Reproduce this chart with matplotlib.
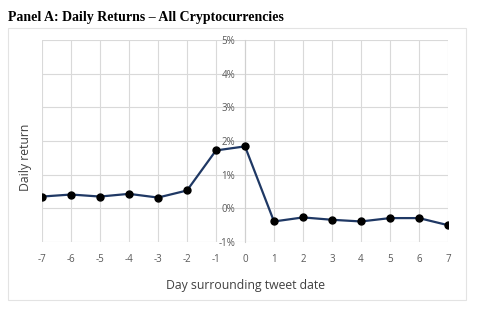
import matplotlib
matplotlib.use("Agg")
import matplotlib.pyplot as plt
from matplotlib.patches import Rectangle
from matplotlib.ticker import FuncFormatter

days = [-7, -6, -5, -4, -3, -2, -1, 0, 1, 2, 3, 4, 5, 6, 7]
returns = [0.35, 0.41, 0.35, 0.43, 0.32, 0.53, 1.72, 1.84,
           -0.39, -0.27, -0.34, -0.39, -0.29, -0.29, -0.50]
y_ticks = [-1, 0, 1, 2, 3, 4, 5]

title = "Panel A: Daily Returns \u2013 All Cryptocurrencies"
x_label = "Day surrounding tweet date"
y_label = "Daily return"

plt.rcParams["axes.unicode_minus"] = False

W, H = 478, 313
fig = plt.figure(figsize=(W / 100, H / 100), dpi=100)

# outer chart frame
fig.patches.append(Rectangle((8 / W, 1 - 300 / H), 458 / W, 272 / H,
                             transform=fig.transFigure, fill=False,
                             edgecolor="#e3e3e3", linewidth=0.8))

fig.text(8 / W, 1 - 18 / H, title, family="Liberation Serif",
         fontweight="bold", fontsize=10, va="center", ha="left")

ax = fig.add_axes([42 / W, 1 - 242 / H, 406 / W, 202 / H])
ax.plot(days, returns, color="#1f3864", linewidth=1.6, marker="o",
        markersize=5, markerfacecolor="black", markeredgecolor="black", zorder=3)

ax.set_xlim(-7, 7)
ax.set_ylim(-1, 5)
ax.set_xticks(days)
ax.set_yticks(y_ticks)
ax.yaxis.set_major_formatter(FuncFormatter(lambda v, _: f"{v:.0f}%"))
ax.grid(True, color="#d9d9d9", linewidth=0.8)
ax.set_axisbelow(True)

for side in ["top", "right", "bottom"]:
    ax.spines[side].set_visible(False)
ax.spines["left"].set_position(("data", 0))
ax.spines["left"].set_color("#d0d0d0")
ax.spines["left"].set_linewidth(0.8)

ax.tick_params(axis="both", length=0, labelsize=7, labelcolor="#595959")
ax.tick_params(axis="y", pad=7)
ax.tick_params(axis="x", pad=9)
for lbl in ax.get_xticklabels() + ax.get_yticklabels():
    lbl.set_family("Open Sans")

fig.text(245 / W, 1 - 286 / H, x_label, family="Open Sans", fontsize=8.8,
         color="#404040", ha="center", va="center")
fig.text(25 / W, 1 - 157 / H, y_label, family="Open Sans", fontsize=8.8,
         color="#404040", ha="center", va="center", rotation=90)

fig.savefig("out.png", dpi=100)
